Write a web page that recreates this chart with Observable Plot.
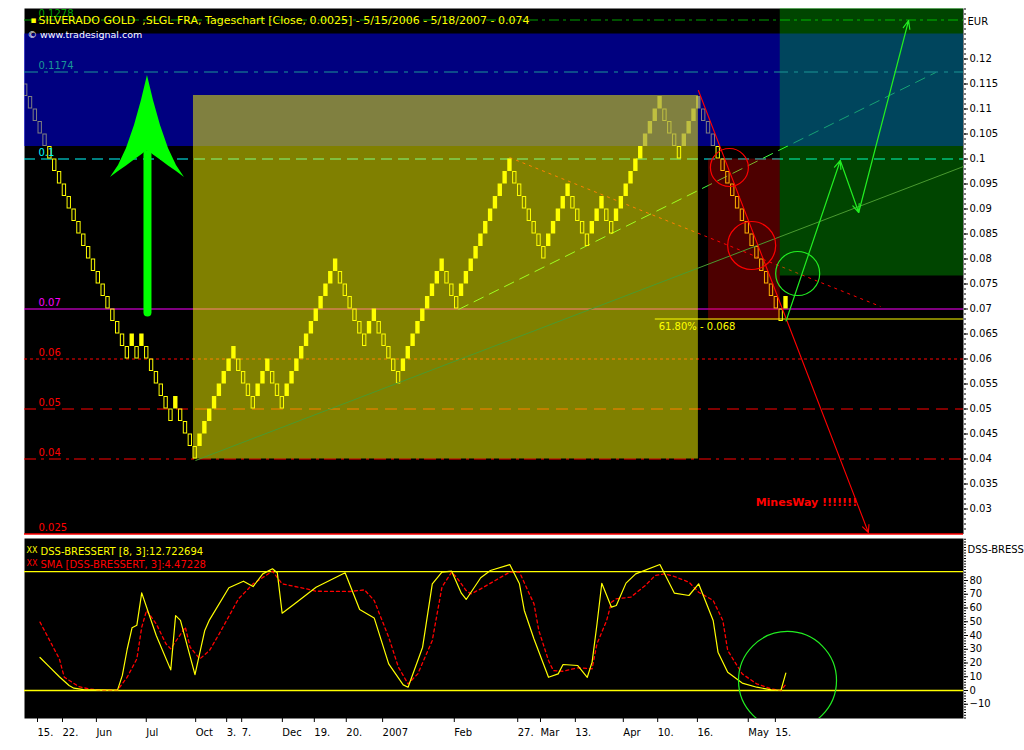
<!DOCTYPE html>
<html><head><meta charset="utf-8">
<script src="https://cdn.jsdelivr.net/npm/d3@7"></script>
<script src="https://cdn.jsdelivr.net/npm/@observablehq/plot@0.6"></script>
<style>
html,body{margin:0;padding:0;background:#fff;overflow:hidden;width:1024px;height:750px}
#main,#lower{position:absolute;left:0}
#main{top:0}
#lower{top:537px}
</style></head><body>
<div id="main"></div><div id="lower"></div>
<script>
// ---------------- data ----------------
const titleText = "SILVERADO GOLD\u00a0\u00a0,SLGL FRA, Tageschart [Close, 0.0025] - 5/15/2006 - 5/18/2007 - 0.074";
const copyrightText = "\u00a9 www.tradesignal.com";
const unitLabel = "EUR";
const boxSize = 0.0025;
// renko brick bottoms, in boxes (value = level * boxSize), one per brick
const brickLevels = [
  45,44,43,42,41,40,39,38,37,36,35,34,33,32,31,30,29,28,27,26,25,24,25,24,25,24,23,22,21,20,19,20,19,18,17,16,
  17,18,19,20,21,22,23,24,
  23,22,21,20,
  21,22,23,
  22,21,20,
  21,22,23,24,25,26,27,28,29,30,31,
  30,29,28,27,26,25,
  26,27,
  26,25,24,23,22,
  23,24,25,26,27,28,29,30,31,
  30,29,28,
  29,30,31,32,33,34,35,36,37,38,39,
  38,37,36,35,34,33,32,
  33,34,35,36,37,
  36,35,34,33,
  34,35,36,
  35,34,
  35,36,37,38,39,40,41,42,43,44,
  43,42,41,40,
  41,42,43,44,
  43,42,41,40,39,38,37,36,35,34,33,32,31,30,29,28,27,
  28
];
const xDomain = [0.248, 194.14];
const yDomain = [0.025, 0.1301];

const levelValues = [0.1278, 0.1174, 0.1, 0.07, 0.06, 0.05, 0.04, 0.025];
const levelLabels = ["0.1278", "0.1174", "0.1", "0.07", "0.06", "0.05", "0.04", "0.025"];
const levelLabelX = 3.14;

const fibValue = 0.068;
const fibLabel = "61.80% - 0.068";
const fibStartX = 130.5;

// shaded zones: blue band, yellow box, red box, green box
const zoneX1 = [0.248, 35.14, 141.5, 156.3];
const zoneX2 = [194.14, 139.4, 156.3, 194.14];
const zoneY1 = [0.1025, 0.04, 0.0677, 0.0766];
const zoneY2 = [0.125, 0.1127, 0.1, 0.1301];

// trend lines: support (green), dashed channel (green), dotted resistance (red)
const trendX1 = [35.56, 89.86, 100.4];
const trendY1 = [0.0397, 0.0699, 0.1003];
const trendX2 = [194.14, 188.4, 177];
const trendY2 = [0.0985, 0.1173, 0.0705];

// red down arrow
const redArrowX = [139.4, 174.5];
const redArrowY = [0.1137, 0.0253];
// green zig-zag projection
const greenPathX = [157.5, 168.7, 172.5, 182.8];
const greenPathY = [0.0676, 0.0997, 0.0893, 0.1277];
// circles
const circleX = [145.8, 150.4, 159.9];
const circleY = [0.0983, 0.0827, 0.0771];
const circleKind = ["red", "red", "green"];

// big green arrow (head outline + shaft)
const bigHeadX = [18.0, 19.66, 21.31, 22.96, 24.4, 25.64, 26.88, 28.33, 29.98, 31.63, 33.28];
const bigHeadTop = [0.0963, 0.0987, 0.1021, 0.1067, 0.1117, 0.1167, 0.1117, 0.1067, 0.1021, 0.0987, 0.0963];
const bigHeadBottom = [0.0963, 0.0975, 0.0986, 0.0998, 0.1008, 0.1017, 0.1008, 0.0998, 0.0986, 0.0975, 0.0963];
const bigShaftX = 25.64;
const bigShaftY = [0.0693, 0.101];

const noteText = "MinesWay !!!!!!!";
const noteX = 161.7, noteY = 0.0313;

// right axis ticks
const priceTicks = [0.12,0.115,0.11,0.105,0.1,0.095,0.09,0.085,0.08,0.075,0.07,0.065,0.06,0.055,0.05,0.045,0.04,0.035,0.03];

// lower panel: DSS-Bressert and its SMA (brick index, value)
const dssIdx = [3,5,7,9,10,12,19,20,21,22,23,24,27,30,31,32,35,37,38,42,45,47,49,51,52,53,56,60,66,69,72,75,78,79,82,84,86,88,90,91,94,96,100,102,103,105,108,110,111,114,116,117,118,119,121,122,124,126,131,134,137,139,142,143,145,148,151,154,156,157];
const dssVal = [24,17,10,3.6,1.7,0.7,0.3,11,30,45.6,47.5,71,40,15,54.5,51,11.6,43.4,51.4,74.7,79.5,75.6,84.8,88.5,85.6,56.2,64.2,75.1,85.6,58.9,52.8,19.4,4.1,2.4,31.5,77.6,86.1,86.8,70.8,66.2,82,87.3,91.6,77.6,58.2,37.5,9.6,12.1,18.9,18.2,9.6,20.6,48,78,60.6,61.8,78.1,84.8,91.6,70.8,69.1,77.6,50.9,27.9,13.3,5.4,2.4,0.5,0.2,12.7];
const smaIdx = [3,5,7,8,11,13,16,19,21,23,24,25,27,29,30,33,34,36,38,40,44,47,51,53,58,60,67,70,72,75,77,79,81,84,86,88,89,91,92,94,97,100,102,105,106,108,109,111,114,117,118,120,121,122,125,128,130,132,134,137,139,142,144,145,148,151,154,156,157];
const smaVal = [49.7,36.4,23,9.7,2.9,1.2,0.2,0.2,9.7,23,46,58.2,48.5,34,30.3,46.1,31.5,23,29.1,41.2,66.7,77.6,86.8,77.6,73.9,72.2,72,73.2,65.5,38.8,17,4.8,12.1,36.4,75.2,86.1,82.4,72.7,70.3,73.9,80,86.1,86.1,63,43.6,21.8,14.5,14,16.5,15.8,33.9,50.9,64.2,66.7,67.9,76.4,83.6,84.8,82.9,78.8,71.5,65.5,50.9,29.1,12.1,4.8,1.2,0,4.5];
const dssBands = [0, 86.5];
const dssDomain = [-20.36, 110.55];
const dssTicks = [80,70,60,50,40,30,20,10,0,-10];
const dssLegend1 = "DSS-BRESSERT [8, 3]:12.722694";
const dssLegend2 = "SMA [DSS-BRESSERT, 3]:4.47228";
const dssAxisLabel = "DSS-BRESSERT";
const lowCircleX = 157.8, lowCircleY = 7.3;

// date labels along the brick axis
const xTickPos = [3.14, 8.3, 15.3, 25.6, 35.8, 42.2, 45.3, 53.7, 60.3, 66.9, 74.4, 89.2, 102.3, 107, 114.2, 124.1, 131.2, 139.4, 149.9, 155.5];
const xTickLabels = ["15.", "22.", "Jun", "Jul", "Oct", "3.", "7.", "Dec", "19.", "20.", "2007", "Feb", "27.", "Mar", "13.", "Apr", "10.", "16.", "May", "15."];

// ---------------- styles ----------------
const FONT = "'DejaVu Sans', Verdana, sans-serif";
const FS = 10;
const levelStyle = {
  "0.1278": {stroke: "#00a000", dash: "10,4,3,4"},
  "0.1174": {stroke: "#1a9696", dash: "14,6,4,6"},
  "0.1":    {stroke: "#00ffff", dash: "11,6"},
  "0.07":   {stroke: "#ff00ff", dash: null},
  "0.06":   {stroke: "#ff0000", dash: "3,3"},
  "0.05":   {stroke: "#ff0000", dash: "12,7"},
  "0.04":   {stroke: "#ff0000", dash: "12,5,3,5"},
  "0.025":  {stroke: "#ff0000", dash: null}
};
const zoneFill = ["#0000ff", "#ffff00", "#ff0000", "#00ff00"];
const zoneOpacity = [0.5, 0.5, 0.3, 0.27];
const trendStroke = ["#4a9a30", "#40ff40", "#ff0000"];
const trendDash = [null, "11,6", "3,4"];
const circleR = [19, 24, 22];
const circleColor = {red: "#ff0000", green: "#22ee22"};

// ---------------- derived tables ----------------
const bricks = brickLevels.map((b, i) => ({
  i, lo: b * boxSize, hi: (b + 1) * boxSize,
  up: i > 0 && b > brickLevels[i - 1]
}));
const zones = zoneX1.map((x, k) => ({x1: x, x2: zoneX2[k], y1: zoneY1[k], y2: zoneY2[k], k}));
const trends = trendX1.map((x, k) => ({x1: x, y1: trendY1[k], x2: trendX2[k], y2: trendY2[k], k}));
const greenSegs = greenPathX.slice(1).map((x, k) => ({x1: greenPathX[k], y1: greenPathY[k], x2: x, y2: greenPathY[k + 1]}));
const bigHead = bigHeadX.map((x, k) => ({x, top: bigHeadTop[k], bottom: bigHeadBottom[k]}));
const dss = dssIdx.map((i, k) => ({x: i + 0.45, y: dssVal[k]}));
const sma = smaIdx.map((i, k) => ({x: i + 0.45, y: smaVal[k]}));
const minorPrice = d3.range(26, 131).map(v => v / 1000);
const minorDss = d3.range(-20, 111, 2);

// ---------------- main panel ----------------
const mainMarks = [Plot.frame({fill: "black", stroke: "none"})];
levelValues.forEach((v, k) => {
  if (levelLabels[k] === "0.1174") return;
  const s = levelStyle[levelLabels[k]];
  mainMarks.push(Plot.ruleY([v], {stroke: s.stroke, strokeDasharray: s.dash, strokeWidth: k === levelValues.length - 1 ? 1.6 : 1}));
});
trends.forEach((t) => {
  if (t.k === 0) return;
  mainMarks.push(Plot.link([t], {x1: "x1", y1: "y1", x2: "x2", y2: "y2", stroke: trendStroke[t.k], strokeDasharray: trendDash[t.k], strokeWidth: 1}));
});
mainMarks.push(
  Plot.rect(bricks.filter(d => d.up), {x1: d => d.i + 0.04, x2: d => d.i + 0.94, y1: "lo", y2: "hi", fill: "#ffff00", clip: true}),
  Plot.rect(bricks.filter(d => !d.up), {x1: d => d.i + 0.04, x2: d => d.i + 0.94, y1: "lo", y2: "hi", fill: "none", stroke: "#ffff00", strokeWidth: 1, inset: 0.5, clip: true})
);
zones.forEach(z => {
  mainMarks.push(Plot.rect([z], {x1: "x1", x2: "x2", y1: "y1", y2: "y2", fill: zoneFill[z.k], fillOpacity: zoneOpacity[z.k]}));
});
// on top of shading
const s1174 = levelStyle["0.1174"];
mainMarks.push(Plot.ruleY([levelValues[levelLabels.indexOf("0.1174")]], {stroke: s1174.stroke, strokeDasharray: s1174.dash, strokeWidth: 1}));
mainMarks.push(Plot.link([trends[0]], {x1: "x1", y1: "y1", x2: "x2", y2: "y2", stroke: trendStroke[0], strokeWidth: 1}));
mainMarks.push(Plot.ruleY([fibValue], {x1: fibStartX, x2: xDomain[1], stroke: "#ffff00", strokeWidth: 1.2}));
mainMarks.push(
  Plot.arrow([{x1: redArrowX[0], y1: redArrowY[0], x2: redArrowX[1], y2: redArrowY[1]}], {x1: "x1", y1: "y1", x2: "x2", y2: "y2", stroke: "#ff0000", strokeWidth: 1.1, headLength: 11, headAngle: 50}),
  Plot.arrow(greenSegs, {x1: "x1", y1: "y1", x2: "x2", y2: "y2", stroke: "#22ee22", strokeWidth: 1.2, headLength: 11, headAngle: 45})
);
circleX.forEach((x, k) => {
  mainMarks.push(Plot.dot([{x, y: circleY[k]}], {x: "x", y: "y", r: circleR[k], stroke: circleColor[circleKind[k]], fill: "none", strokeWidth: 1.2}));
});
mainMarks.push(
  Plot.link([{x: bigShaftX, y1: bigShaftY[0], y2: bigShaftY[1]}], {x1: "x", x2: "x", y1: "y1", y2: "y2", stroke: "#00ff00", strokeWidth: 8, strokeLinecap: "round"}),
  Plot.areaY(bigHead, {x: "x", y1: "bottom", y2: "top", fill: "#00ff00", curve: "linear"})
);
levelValues.forEach((v, k) => {
  mainMarks.push(Plot.text([levelLabels[k]], {x: levelLabelX, y: v, text: d => d, dy: -6, textAnchor: "start", fill: levelStyle[levelLabels[k]].stroke, fontSize: FS}));
});
mainMarks.push(
  Plot.text([fibLabel], {x: fibStartX + 0.7, y: fibValue, text: d => d, dy: 8, textAnchor: "start", fill: "#ffff00", fontSize: FS}),
  Plot.text([noteText], {x: noteX, y: noteY, text: d => d, fill: "#ff0000", fontWeight: "bold", fontSize: 11}),
  Plot.text([titleText], {frameAnchor: "top-left", dx: 14, dy: 8, textAnchor: "start", fill: "#ffff00", fontSize: 11}),
  Plot.text(["\u25aa"], {frameAnchor: "top-left", dx: 6, dy: 8, textAnchor: "start", fill: "#ffff00", fontSize: 9}),
  Plot.text([copyrightText], {frameAnchor: "top-left", dx: 3, dy: 23, textAnchor: "start", fill: "#ffffff", fontSize: 9.5}),
  Plot.text([unitLabel], {frameAnchor: "top-right", dx: 4, dy: 9, textAnchor: "start", fill: "#000", fontSize: FS}),
  Plot.axisY(priceTicks, {anchor: "right", tickSize: 4, tickPadding: 2, fontSize: FS, tickFormat: d => String(+d.toFixed(4))}),
  Plot.axisY(minorPrice, {anchor: "right", tickSize: 2, tickFormat: () => ""})
);

const mainPlot = Plot.plot({
  width: 1024, height: 536,
  marginLeft: 24, marginRight: 61, marginTop: 8, marginBottom: 2.5,
  x: {domain: xDomain, axis: null, label: null},
  y: {domain: yDomain, label: null},
  style: {background: "white", fontFamily: FONT, fontSize: FS + "px", overflow: "visible"},
  marks: mainMarks
});
document.getElementById("main").appendChild(mainPlot);

// ---------------- lower panel ----------------
const lowerPlot = Plot.plot({
  width: 1024, height: 213,
  marginLeft: 24, marginRight: 61, marginTop: 1, marginBottom: 32,
  x: {domain: xDomain, label: null},
  y: {domain: dssDomain, label: null},
  style: {background: "white", fontFamily: FONT, fontSize: FS + "px", overflow: "visible"},
  marks: [
    Plot.frame({fill: "black", stroke: "none"}),
    Plot.ruleY(dssBands, {stroke: "#ffff00", strokeWidth: 1.3}),
    Plot.line(sma, {x: "x", y: "y", stroke: "#ff0000", strokeWidth: 1.3, strokeDasharray: "3,3", curve: "linear"}),
    Plot.line(dss, {x: "x", y: "y", stroke: "#ffff00", strokeWidth: 1.2, curve: "linear"}),
    Plot.dot([{x: lowCircleX, y: lowCircleY}], {x: "x", y: "y", r: 49, stroke: "#22ee22", fill: "none", strokeWidth: 1.2, clip: true}),
    Plot.text(["XX"], {frameAnchor: "top-left", dx: 2, dy: 9, textAnchor: "start", fill: "#ffff00", fontSize: 8}),
    Plot.text([dssLegend1], {frameAnchor: "top-left", dx: 16, dy: 9, textAnchor: "start", fill: "#ffff00", fontSize: FS}),
    Plot.text(["XX"], {frameAnchor: "top-left", dx: 2, dy: 22, textAnchor: "start", fill: "#ff0000", fontSize: 8}),
    Plot.text([dssLegend2], {frameAnchor: "top-left", dx: 16, dy: 22, textAnchor: "start", fill: "#ff0000", fontSize: FS}),
    Plot.text([dssAxisLabel], {frameAnchor: "top-right", dx: 4, dy: 7, textAnchor: "start", fill: "#000", fontSize: FS}),
    Plot.axisY(dssTicks, {anchor: "right", tickSize: 4, tickPadding: 2, fontSize: FS}),
    Plot.axisY(minorDss, {anchor: "right", tickSize: 2, tickFormat: () => ""}),
    Plot.axisX(xTickPos, {anchor: "bottom", tickSize: 4, tickPadding: 6, fontSize: FS, textAnchor: "start", dx: -1, tickFormat: d => xTickLabels[xTickPos.indexOf(d)]})
  ]
});
document.getElementById("lower").appendChild(lowerPlot);
</script>
</body></html>
